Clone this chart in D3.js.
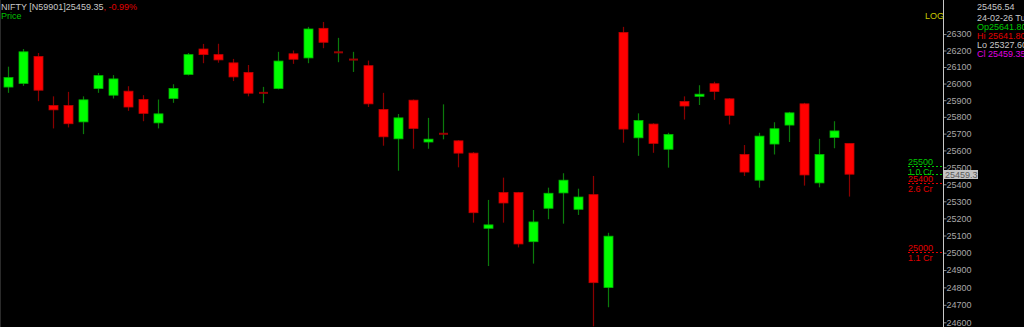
<!DOCTYPE html>
<html>
<head>
<meta charset="utf-8">
<script src="https://cdn.jsdelivr.net/npm/d3@7"></script>
<style>
  html, body { margin: 0; padding: 0; background: #000; }
  svg { display: block; font-family: "Liberation Sans", Arial, sans-serif; }
</style>
</head>
<body>
<div class="chart"></div>
<script>
// daily candles, oldest first (index = trading day)
var opens  = [25979, 26001, 26164, 25868, 25868, 25770, 25970, 25930, 25954, 25904,
              25764, 25910, 26055, 26209, 26175, 26125, 26067, 25944, 25970, 26180,
              26155, 26335, 26189, 26145, 26108, 25844, 25669, 25900, 25650, 25699,
              25657, 25584, 25142, 25351, 25351, 25064, 25259, 25349, 25253, 25339,
              24799, 26310, 25675, 25757, 25607, 25892, 25923, 25999, 25908, 25576,
              25424, 25638, 25751, 25878, 25408, 25677, 25641.80];
var highs  = [26102, 26209, 26185, 25923, 25950, 25923, 26064, 26051, 25984, 25930,
              25904, 25996, 26185, 26240, 26241, 26149, 26112, 25980, 26192, 26200,
              26344, 26374, 26277, 26192, 26139, 25944, 25817, 25904, 25794, 25875,
              25661, 25590, 25308, 25439, 25355, 25249, 25380, 25465, 25374, 25449,
              25116, 26344, 25821, 25762, 25705, 25923, 25990, 26011, 25912, 25632,
              25705, 25768, 25830, 25884, 25669, 25774, 25641.80];
var lows   = [25944, 25986, 25894, 25731, 25737, 25697, 25944, 25910, 25836, 25774,
              25731, 25884, 26049, 26123, 26126, 26015, 25923, 25882, 25965, 26119,
              26123, 26214, 26129, 26070, 25859, 25628, 25480, 25610, 25610, 25666,
              25500, 25175, 24923, 25175, 25031, 24937, 25195, 25169, 25220, 24577,
              24686, 25646, 25568, 25586, 25498, 25784, 25871, 25902, 25755, 25449,
              25380, 25576, 25650, 25392, 25382, 25613, 25327.60];
var closes = [26036, 26192, 25960, 25842, 25759, 25902, 26048, 26028, 25859, 25821,
              25818, 25970, 26175, 26175, 26143, 26040, 25942, 25944, 26136, 26147,
              26331, 26250, 26189, 26145, 25878, 25681, 25794, 25731, 25667, 25699,
              25584, 25233, 25162, 25290, 25051, 25179, 25347, 25424, 25325, 24827,
              25096, 25727, 25778, 25642, 25695, 25865, 25936, 25952, 25809, 25472,
              25685, 25729, 25824, 25455, 25576, 25716, 25459.35];

// price axis ticks
var priceTicks = [26300, 26200, 26100, 26000, 25900, 25800, 25700, 25600, 25500,
                  25400, 25300, 25200, 25100, 25000, 24900, 24800, 24700, 24600];

// marked levels on the right (price, volume text, colour)
var levelPrices = [25500, 25400, 25000];
var levelVolumes = ["1.0 Cr", "2.6 Cr", "1.1 Cr"];
var levelColors = ["#00c800", "#e00000", "#e00000"];

var lastPrice = 25459.35;

var svgWidth = 1024;
var svgHeight = 327;
var axisX = 943;

var svg = d3.select(".chart")
  .append("svg")
  .attr("width", svgWidth)
  .attr("height", svgHeight);

svg.append("rect")
  .attr("width", svgWidth)
  .attr("height", svgHeight)
  .attr("fill", "#000");

// faint frame on the left edge
svg.append("line")
  .attr("x1", 0.5).attr("x2", 0.5)
  .attr("y1", 0).attr("y2", svgHeight)
  .attr("stroke", "#2a2a2a");

var xScale = d3.scaleLinear()
  .domain([0, opens.length - 1])
  .range([7.7, 848.7]);

// LOG price scale
var yScale = d3.scaleLog()
  .domain([24600, 26100])
  .range([322.3, 67]);

var candles = opens.map(function (o, i) {
  return { i: i, open: o, high: highs[i], low: lows[i], close: closes[i] };
});

var candleGroup = svg.append("g");

var nodes = candleGroup.selectAll(".candle")
  .data(candles)
  .enter().append("g")
  .attr("class", "candle");

// wicks
nodes.append("line")
  .attr("x1", d => Math.round(xScale(d.i)) + 0.5)
  .attr("x2", d => Math.round(xScale(d.i)) + 0.5)
  .attr("y1", d => yScale(d.high))
  .attr("y2", d => yScale(d.low))
  .attr("stroke", d => d.close >= d.open ? "#0b7a0b" : "#8a0000")
  .attr("stroke-width", 1.2);

// bodies (flat ones become a dark cross bar)
nodes.append("rect")
  .attr("x", d => Math.round(xScale(d.i)) - 4)
  .attr("width", 9)
  .attr("y", function (d) {
    if (d.open == d.close) return yScale(d.open) - 1;
    return yScale(Math.max(d.open, d.close));
  })
  .attr("height", function (d) {
    if (d.open == d.close) return 2;
    return Math.max(2, Math.abs(yScale(d.open) - yScale(d.close)));
  })
  .attr("fill", function (d) {
    if (d.open == d.close) return "#9a0000";
    return d.close > d.open ? "#00ff00" : "#ff0000";
  })
  .attr("stroke", function (d) {
    if (d.open == d.close) return "none";
    return d.close > d.open ? "#00b400" : "#c00000";
  })
  .attr("stroke-width", 0.8);

// price axis
var rightAxis = d3.axisRight(yScale)
  .tickValues(priceTicks)
  .tickFormat(d3.format("d"))
  .tickSize(3)
  .tickPadding(0);

var yAxis = svg.append("g")
  .attr("transform", `translate(${axisX + 0.5}, 0)`)
  .call(rightAxis);

yAxis.select(".domain").remove();
yAxis.selectAll(".tick line").attr("stroke", "#8c8c8c");
yAxis.selectAll(".tick text")
  .attr("fill", "#a8a8a8")
  .attr("font-size", "9px")
  .attr("font-family", "Liberation Sans, Arial, sans-serif");

svg.append("line")
  .attr("x1", axisX + 0.5).attr("x2", axisX + 0.5)
  .attr("y1", 0).attr("y2", svgHeight)
  .attr("stroke", "#c8c8c8");

// level markers left of the axis
levelPrices.forEach(function (p, k) {
  var ly = Math.round(yScale(p)) - 0.5;
  svg.append("line")
    .attr("x1", 908).attr("x2", axisX)
    .attr("y1", ly).attr("y2", ly)
    .attr("stroke", levelColors[k])
    .attr("stroke-dasharray", "2,2");
  svg.append("text")
    .attr("x", 908).attr("y", ly - 1.5)
    .attr("fill", levelColors[k])
    .attr("font-size", "9px")
    .text(p);
  svg.append("text")
    .attr("x", 908).attr("y", ly + 8.5)
    .attr("fill", levelColors[k])
    .attr("font-size", "9px")
    .text(levelVolumes[k]);
});

// last price line and tag
var lastY = Math.round(yScale(lastPrice)) + 0.5;
svg.append("line")
  .attr("x1", 908).attr("x2", axisX)
  .attr("y1", lastY).attr("y2", lastY)
  .attr("stroke", "#00c800")
  .attr("stroke-dasharray", "2,2");

svg.append("rect")
  .attr("x", axisX + 1).attr("y", lastY - 4.5)
  .attr("width", 34).attr("height", 9)
  .attr("fill", "#c4c4c4");

svg.append("text")
  .attr("x", axisX + 2).attr("y", lastY + 3.5)
  .attr("fill", "#5a5a5a")
  .attr("font-size", "9px")
  .text("25459.3");

// header
var header = svg.append("text")
  .attr("x", 1).attr("y", 10)
  .attr("font-size", "9px");
header.append("tspan").attr("fill", "#c8c8c8").text("NIFTY [N59901]25459.35");
header.append("tspan").attr("fill", "#e00000").text(",  -0.99%");

svg.append("text")
  .attr("x", 1).attr("y", 18.5)
  .attr("fill", "#00c000")
  .attr("font-size", "9px")
  .text("Price");

svg.append("text")
  .attr("x", 925).attr("y", 18.5)
  .attr("fill", "#c8c800")
  .attr("font-size", "9px")
  .text("LOG");

// info panel top right
var infoLines = ["25456.54", "24-02-26 Tu", "Op25641.80", "Hi 25641.80", "Lo 25327.60", "Cl 25459.35"];
var infoColors = ["#c8c8c8", "#c8c8c8", "#00c800", "#e00000", "#c8c8c8", "#e000e0"];
var infoY = [9.5, 20.5, 29.5, 38.5, 47.5, 57];

infoLines.forEach(function (t, k) {
  svg.append("text")
    .attr("x", 977).attr("y", infoY[k])
    .attr("fill", infoColors[k])
    .attr("font-size", "9px")
    .text(t);
});
</script>
</body>
</html>
